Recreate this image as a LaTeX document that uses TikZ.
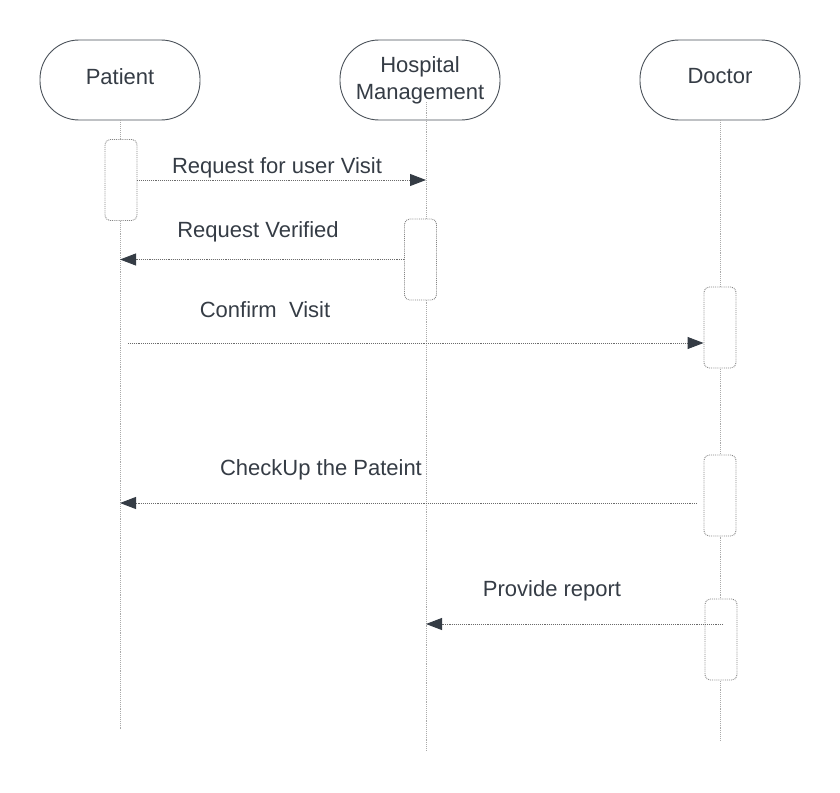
\documentclass[tikz,border=0pt]{standalone}
\usepackage{fontspec}
\setmainfont{Liberation Sans}
\usepackage{tikz}
\usetikzlibrary{arrows.meta}
\definecolor{inkgray}{HTML}{353C45}
\definecolor{linegray}{HTML}{858585}
\tikzstyle{actor} = [rectangle, rounded corners=39pt, minimum width=160pt, minimum height=80pt, text centered, align=center, draw=inkgray!90, line width=0.9pt, fill=white, text=inkgray, font=\fontsize{22}{27}\selectfont]
\tikzstyle{lifeline} = [densely dotted, draw=linegray!70, line width=0.9pt]
\tikzstyle{activation} = [rectangle, rounded corners=5pt, minimum width=32pt, minimum height=81pt, densely dotted, draw=linegray, line width=0.9pt, fill=white]
\tikzstyle{arrow} = [densely dotted, draw=linegray!80!black, line width=0.9pt, -{Triangle[length=16pt, width=12pt, color=inkgray]}]
\tikzstyle{msgtext} = [anchor=base, inner sep=0pt, text=inkgray, font=\fontsize{22}{27}\selectfont]

\begin{document}
\begin{tikzpicture}[x=1pt, y=-1pt]
\useasboundingbox (0,0) rectangle (840,792);

\node (patient) [actor, text depth=7.4pt] at (120,80) {Patient};
\node (hospital) [actor] at (420,80) {Hospital\\Management};
\node (doctor) [actor, text depth=7.4pt] at (720,80) {Doctor};

\coordinate (patientend) at (120,730);
\coordinate (hospitaltop) at (426,102);
\coordinate (hospitalend) at (426,750);
\coordinate (doctorend) at (720,740);

\draw [lifeline] (patient.south) -- (patientend);
\draw [lifeline] (hospitaltop) -- (hospitalend);
\draw [lifeline] (doctor.south) -- (doctorend);

\node (pa1) [activation] at (121,180) {};
\node (hm1) [activation] at (420.5,259.5) {};
\node (dr1) [activation] at (720,327.5) {};
\node (dr2) [activation] at (720,495.5) {};
\node (dr3) [activation] at (721,639.5) {};

\coordinate (confirmstart) at (128,343);
\coordinate (checkupstart) at (697,503);
\coordinate (reportstart) at (723,624);

\draw [arrow] (pa1.east) -- (pa1.east -| hospitalend);
\draw [arrow] (hm1.west) -- (hm1.west -| patientend);
\draw [arrow] (confirmstart) -- (confirmstart -| dr1.west);
\draw [arrow] (checkupstart) -- (checkupstart -| patientend);
\draw [arrow] (reportstart) -- (reportstart -| hospitalend);

\node (requestlabel) [msgtext] at (277,173) {Request for user Visit};
\node (verifiedlabel) [msgtext] at (258,237) {Request Verified};
\node (confirmlabel) [msgtext] at (265,317) {Confirm\ \ Visit};
\node (checkuplabel) [msgtext] at (321,475) {CheckUp the Pateint};
\node (reportlabel) [msgtext] at (552,596) {Provide report};

\end{tikzpicture}
\end{document}
